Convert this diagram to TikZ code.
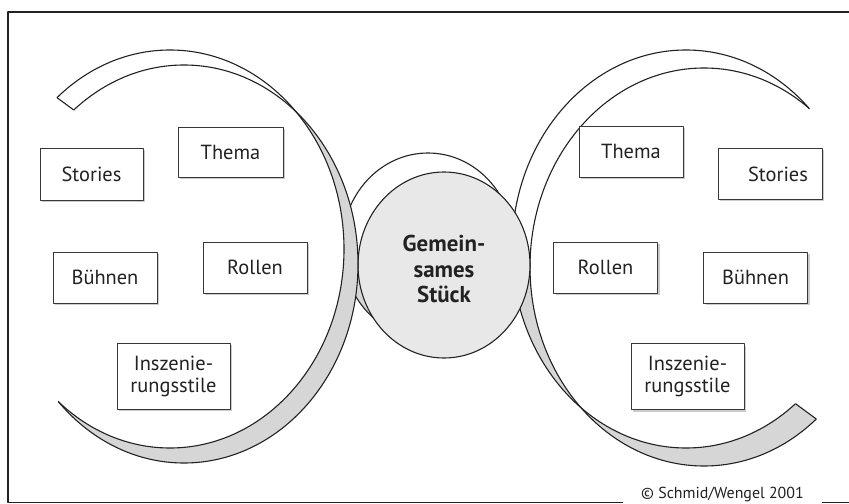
\documentclass[tikz,border=0pt]{standalone}
\usepackage{fontspec}
\setmainfont{PT Sans}
\usetikzlibrary{shadows}
\definecolor{band}{HTML}{D6D6D6}
\definecolor{disc}{HTML}{E8E8E8}
\definecolor{ink}{HTML}{222222}
\begin{document}
\begin{tikzpicture}[x=1bp,y=-1bp,line join=round,
  ring/.style={draw=ink,line width=1.1bp},
  box/.style={draw=ink!90,line width=0.9bp,fill=white,rectangle,
    minimum width=104bp,minimum height=51bp,inner sep=0pt,align=center,
    font=\fontsize{20.5}{22}\selectfont,text=ink,
    drop shadow={shadow xshift=2bp,shadow yshift=-2bp,fill=black!40}},
  bigbox/.style={box,minimum width=113bp,minimum height=66bp},
  frameline/.style={draw=ink,line width=1.3bp}]
\useasboundingbox (0,0) rectangle (849,504);
\fill[white] (0,0) rectangle (849,504);

% ---------- right ring (behind the centre disc)
\coordinate (rcapQ) at (795.5,403.7);
\coordinate (rcapP) at (816.3,419);
\begin{scope}
  \clip (420,-30) -- (884.5,-49.5) -- (809.3,108.8) -- (701.9,334.9) -- (795.5,403.7)
        -- (899.5,480.2) -- (899.5,540) -- (420,540) -- cycle;
  \begin{scope}
    \clip (704,267) ellipse [x radius=174, y radius=199];
    \fill[band,even odd rule] (704,267) ellipse [x radius=174, y radius=199]
                              (686,249) ellipse [x radius=174, y radius=199];
  \end{scope}
  \begin{scope}
    \clip (686,249) ellipse [x radius=174, y radius=199];
    \clip (0,260) rectangle (849,504);
    \fill[band,even odd rule] (704,267) ellipse [x radius=174, y radius=199]
                              (686,249) ellipse [x radius=174, y radius=199];
  \end{scope}
  \draw[ring] (704,267) ellipse [x radius=174, y radius=199];
  \draw[ring] (686,249) ellipse [x radius=174, y radius=199];
\end{scope}
\draw[ring] (rcapQ) -- (rcapP);

% ---------- back disc
\fill[white] (428,246) ellipse [x radius=86, y radius=93];
\begin{scope}
  \clip (0,260) rectangle (849,504);
  \fill[band] (428,246) ellipse [x radius=86, y radius=93];
\end{scope}
\draw[ring] (428,246) ellipse [x radius=86, y radius=93];

% ---------- front disc
\fill[disc] (444,265) ellipse [x radius=86, y radius=93];
\draw[ring] (444,265) ellipse [x radius=86, y radius=93];
\node[font=\bfseries\fontsize{23}{25.5}\selectfont,text=ink,align=center] (stueck) at (444,269)
  {Gemein-\\sames\\Stück};

% ---------- left ring
\coordinate (lcapB) at (57,97.7);
\coordinate (lcapA) at (73.8,110);
\begin{scope}
  \clip (31.8,-20) -- (31.8,79.3) -- (174.6,183.8) -- (58.2,401.5) -- (23.3,466.8)
        -- (23.3,520) -- (440,520) -- (440,-20) -- cycle;
  \begin{scope}
    \clip (184,264) ellipse [x radius=174, y radius=199];
    \fill[white] (170,249) ellipse [x radius=174, y radius=199];
    \fill[band,even odd rule] (184,264) ellipse [x radius=174, y radius=199]
                              (170,249) ellipse [x radius=174, y radius=199];
  \end{scope}
  \draw[ring] (184,264) ellipse [x radius=174, y radius=199];
  \draw[ring] (170,249) ellipse [x radius=174, y radius=199];
\end{scope}
\draw[ring] (lcapB) -- (lcapA);

% ---------- boxes
\node[box,minimum width=103bp,minimum height=52bp] (stL) at (91.5,174) {Stories};
\node[box,minimum width=105bp,minimum height=50bp] (thL) at (230.5,152) {Thema};
\node[box] (buL) at (105,277.5) {Bühnen};
\node[box] (roL) at (255,267.5) {Rollen};
\node[bigbox] (inL) at (173.5,376) {Inszenie-\\rungsstile};

\node[box] (thR) at (631,151.5) {Thema};
\node[box] (stR) at (770,174) {\hspace*{16bp}Stories};
\node[box] (roR) at (605.5,267.5) {Rollen};
\node[box] (buR) at (755.5,277.5) {Bühnen};
\node[bigbox] (inR) at (687.5,376.5) {Inszenie-\\rungsstile};

% ---------- frame and credit
\draw[frameline] (849,12) -- (8,12) -- (8,502.5) -- (623,502.5);
\draw[frameline] (822,502.5) -- (849,502.5);
\node[anchor=base,font=\fontsize{16}{18}\selectfont,text=ink,inner sep=0pt] (credit) at (722.5,498.5)
  {© Schmid/Wengel 2001};
\end{tikzpicture}
\end{document}
